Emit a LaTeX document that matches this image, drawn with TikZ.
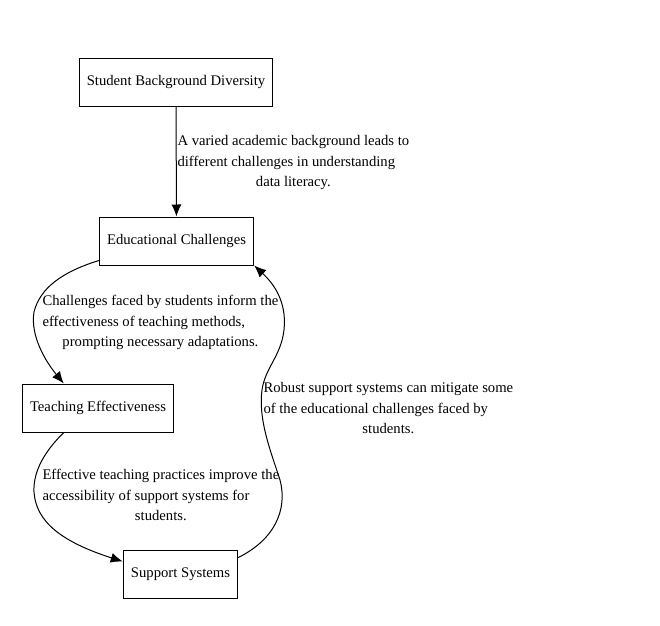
\documentclass[tikz,border=0pt]{standalone}
\usepackage{fontspec}
\setmainfont{Liberation Serif}
\usetikzlibrary{arrows.meta,calc}

\tikzset{every picture/.style={line width=0.75pt}}
\tikzset{
  box/.style={draw, rectangle, inner xsep=5.8pt, minimum height=36pt, font=\fontsize{11}{15.5}\selectfont},
  edgelabel/.style={inner sep=0pt, font=\fontsize{11}{15.5}\selectfont},
  flow/.style={-{Latex[length=9pt,width=7.5pt]}}
}
% three-line edge label: first two lines flush left, last one centred
\newcommand{\edgetext}[3]{\begin{tabular}{@{}l@{}}#1\\#2\\\multicolumn{1}{@{}c@{}}{#3}\end{tabular}}

\begin{document}
\begin{tikzpicture}[x=0.75pt,y=0.75pt,yscale=-1,xscale=1]
%set diagram left start at 0, and has height of 625
\useasboundingbox (0,0) rectangle (660,625);

%Shape: Rectangle [id:sbd]
\node [box] (sbd) at (176,82) {Student Background Diversity};
%Shape: Rectangle [id:ec]
\node [box] (ec) at (176.5,241) {Educational Challenges};
%Shape: Rectangle [id:te]
\node [box] (te) at (98,408) {Teaching Effectiveness};
%Shape: Rectangle [id:ss]
\node [box] (ss) at (180.5,574) {Support Systems};

%Straight Lines [id:sbd-ec]
\draw [flow] (sbd) -- (ec);
%Curve Lines [id:ec-te]
\draw [flow] ($(ec.south west)+(0,-5)$) .. controls (62,272) and (40,288) .. (34,312) .. controls (30,336) and (46,362) .. ($(te.north west)+(42,0)$);
%Curve Lines [id:te-ss]
\draw [flow] ($(te.south west)+(42,0)$) .. controls (46,450) and (33,470) .. (34,492) .. controls (36,522) and (62,542) .. ($(ss.north west)+(0,12)$);
%Curve Lines [id:ss-ec]
\draw [flow] ($(ss.north east)+(0,8)$) .. controls (274,540) and (288,510) .. (280,480) .. controls (271,452) and (258,420) .. (262,390) .. controls (265,368) and (281,356) .. (284,330) .. controls (287,302) and (274,284) .. (ec.south east);

% Text Node
\node [edgelabel, anchor=west] (lbl1) at (177,162) {\edgetext{A varied academic background leads to}{different challenges in understanding}{data literacy.}};
% Text Node
\node [edgelabel, anchor=west] (lbl2) at (42,322) {\edgetext{Challenges faced by students inform the}{effectiveness of teaching methods,}{prompting necessary adaptations.}};
% Text Node
\node [edgelabel, anchor=west] (lbl3) at (42,496) {\edgetext{Effective teaching practices improve the}{accessibility of support systems for}{students.}};
% Text Node
\node [edgelabel, anchor=west] (lbl4) at (263,409) {\edgetext{Robust support systems can mitigate some}{of the educational challenges faced by}{students.}};

\end{tikzpicture}
\end{document}
